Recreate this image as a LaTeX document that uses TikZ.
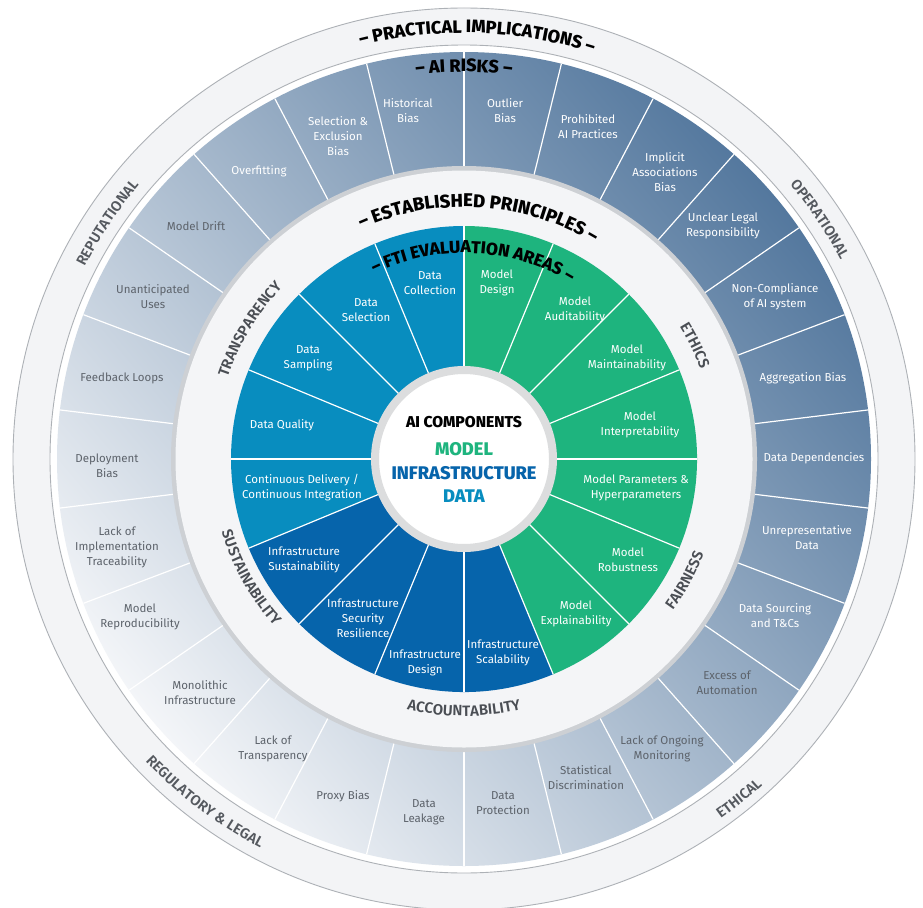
\documentclass[tikz,border=0pt]{standalone}
\usepackage{fontspec}
\setmainfont{Fira Sans}
\usetikzlibrary{decorations.text}

% heavy and semibold cuts, with a plain bold fallback
\IfFontExistsTF{Fira Sans ExtraBold}
  {\newfontfamily\heavyfont{Fira Sans ExtraBold}}
  {\newcommand\heavyfont{\bfseries}}
\IfFontExistsTF{Fira Sans SemiBold}
  {\newfontfamily\semifont{Fira Sans SemiBold}}
  {\newcommand\semifont{\bfseries}}

\definecolor{bandfill}{HTML}{F3F4F6}
\definecolor{bandline}{HTML}{ADB1B6}
\definecolor{riskdark}{HTML}{54789E}
\definecolor{risklight}{HTML}{F3F5F8}
\definecolor{ringfill}{HTML}{F4F5F7}
\definecolor{ringrim}{HTML}{CDD0D4}
\definecolor{modelc}{HTML}{1EB47E}
\definecolor{datac}{HTML}{088DBF}
\definecolor{infrac}{HTML}{0664AB}
\definecolor{labelgray}{HTML}{5D636B}
\definecolor{headgray}{HTML}{4A4E54}
\definecolor{outergray}{HTML}{55595F}
\definecolor{hubrim}{HTML}{DCDDDE}

% curved text on the upper half (clockwise path, letters outside the baseline)
\newcommand\arcup[5]{%
  \path[decorate,decoration={text along path,text align=center,text color=#1,text={|#2|#3}}]
    ({#4+75}:#5) arc[start angle={#4+75},end angle={#4-75},radius=#5];}
% curved text on the lower half (counter-clockwise path, letters inside the baseline)
\newcommand\arcdown[5]{%
  \path[decorate,decoration={text along path,text align=center,text color=#1,text={|#2|#3}}]
    ({#4-75}:#5) arc[start angle={#4-75},end angle={#4+75},radius=#5];}

\newcommand\bigttl{\heavyfont\fontsize{18}{18}\selectfont}
\newcommand\riskttl{\heavyfont\fontsize{18}{18}\selectfont}
\newcommand\printtl{\heavyfont\fontsize{18.5}{18.5}\selectfont}
\newcommand\ftittl{\heavyfont\fontsize{17.3}{17.3}\selectfont}
\newcommand\prinfont{\semifont\fontsize{15}{15}\selectfont}
\newcommand\outfont{\semifont\fontsize{14.5}{14.5}\selectfont}

\begin{document}
\begin{tikzpicture}[x=1pt,y=1pt,
  sep/.style={white,line width=1.2pt},
  lbl/.style={align=center,inner sep=0pt,font=\fontsize{11.5}{15}\selectfont},
  rdark/.style={lbl,text=labelgray},
  rlight/.style={lbl,text=white},
  fti/.style={lbl,text=white},
  hubtxt/.style={inner sep=0pt,font=\heavyfont\fontsize{18.3}{19}\selectfont}]
\useasboundingbox (0,0) rectangle (923,-907);
\fill[white] (0,0) rectangle (923,-907);

\begin{scope}[shift={(464,-459)}]
  % outer band of practical implications
  \fill[bandfill] (0,0) circle (451);
  \draw[bandline,line width=0.9pt] (0,0) circle (451);
  \draw[bandline,line width=0.9pt,fill=white] (0,0) circle (414);

  % AI risks ring
  \shade[top color=riskdark,bottom color=risklight,shading angle=-50] (0,0) circle (407);
  \foreach \k in {0,...,25}
    \draw[sep] ({90-\k*360/26}:290) -- ({90-\k*360/26}:407);

  % established principles ring
  \fill[ringrim] (0,0) circle (293);
  \fill[ringfill] (0,0) circle (288.5);

  % FTI evaluation areas
  \fill[datac]  (0,0) -- (90:233) arc[start angle=90,end angle=202.5,radius=233] -- cycle;
  \fill[infrac] (0,0) -- (202.5:233) arc[start angle=202.5,end angle=292.5,radius=233] -- cycle;
  \fill[modelc] (0,0) -- (-67.5:233) arc[start angle=-67.5,end angle=90,radius=233] -- cycle;
  \foreach \k in {0,...,15}
    \draw[sep] ({90-\k*22.5}:80) -- ({90-\k*22.5}:233);

  % AI components hub
  \draw[hubrim,line width=8pt,fill=white] (0,0) circle (89);
  \node[inner sep=0pt,font=\heavyfont\fontsize{15.7}{16}\selectfont] (hubtitle) at (0,37) {AI COMPONENTS};
  \node[hubtxt,text=modelc] (hubmodel) at (0,10) {MODEL};
  \node[hubtxt,text=infrac] (hubinfra) at (0,-14) {INFRASTRUCTURE};
  \node[hubtxt,text=datac] (hubdata) at (0,-37) {DATA};

  % FTI evaluation area labels
  \node[fti] (f1)  at (-34,176)   {Data\\Collection};
  \node[fti] (f2)  at (33,176)    {Model\\Design};
  \node[fti] (f3)  at (111,149)   {Model\\Auditability};
  \node[fti] (f4)  at (163,101)   {Model\\Maintainability};
  \node[fti] (f5)  at (176,34)    {Model\\Interpretability};
  \node[fti] (f6)  at (172,-29)   {Model Parameters \&\\Hyperparameters};
  \node[fti] (f7)  at (164,-101)  {Model\\Robustness};
  \node[fti] (f8)  at (112,-155)  {Model\\Explainability};
  \node[fti] (f9)  at (39,-194)   {Infrastructure\\Scalability};
  \node[fti] (f10) at (-39,-204)  {Infrastructure\\Design};
  \node[fti] (f11) at (-101,-159) {Infrastructure\\Security\\Resilience};
  \node[fti] (f12) at (-160,-101) {Infrastructure\\Sustainability};
  \node[fti] (f13) at (-162,-29)  {Continuous Delivery /\\Continuous Integration};
  \node[fti] (f14) at (-182,34)   {Data Quality};
  \node[fti] (f15) at (-156,101)  {Data\\Sampling};
  \node[fti] (f16) at (-98,149)   {Data\\Selection};

  % AI risk labels
  \node[rlight] (r1)  at (41,348)    {Outlier\\Bias};
  \node[rlight] (r2)  at (124,332)   {Prohibited\\AI Practices};
  \node[rlight] (r3)  at (201,287)   {Implicit\\Associations\\Bias};
  \node[rlight] (r4)  at (259,233)   {Unclear Legal\\Responsibility};
  \node[rlight] (r5)  at (311,162)   {Non-Compliance\\of AI system};
  \node[rlight] (r6)  at (339,81)    {Aggregation Bias};
  \node[rlight] (r7)  at (350,1)     {Data Dependencies};
  \node[rlight] (r8)  at (343,-79)   {Unrepresentative\\Data};
  \node[rlight] (r9)  at (311,-157)  {Data Sourcing\\and T\&Cs};
  \node[rdark]  (r10) at (263,-224)  {Excess of\\Automation};
  \node[rdark]  (r11) at (198,-290)  {Lack of Ongoing\\Monitoring};
  \node[rdark]  (r12) at (122,-319)  {Statistical\\Discrimination};
  \node[rdark]  (r13) at (39,-344)   {Data\\Protection};
  \node[rdark]  (r14) at (-40,-353)  {Data\\Leakage};
  \node[rdark]  (r15) at (-121,-337) {Proxy Bias};
  \node[rdark]  (r16) at (-191,-290) {Lack of\\Transparency};
  \node[rdark]  (r17) at (-264,-234) {Monolithic\\Infrastructure};
  \node[rdark]  (r18) at (-324,-158) {Model\\Reproducibility};
  \node[rdark]  (r19) at (-347,-88)  {Lack of\\Implementation\\Traceability};
  \node[rdark]  (r20) at (-357,-7)   {Deployment\\Bias};
  \node[rdark]  (r21) at (-342,81)   {Feedback Loops};
  \node[rdark]  (r22) at (-311,162)  {Unanticipated\\Uses};
  \node[rdark]  (r23) at (-268,233)  {Model Drift};
  \node[rlight] (r24) at (-205,288)  {Overfitting};
  \node[rlight] (r25) at (-126,323)  {Selection \&\\Exclusion\\Bias};
  \node[rlight] (r26) at (-56,348)   {Historical\\Bias};

  % ring titles
  \arcup{black}{\bigttl}{– PRACTICAL IMPLICATIONS –}{88.2}{426}
  \arcup{black}{\riskttl}{– AI RISKS –}{90}{387}
  \arcup{black}{\printtl}{– ESTABLISHED PRINCIPLES –}{86.5}{252}
  \arcup{black}{\ftittl}{– FTI EVALUATION AREAS –}{87.3}{206}

  % established principles
  \arcup{headgray}{\prinfont}{TRANSPARENCY}{148.8}{250}
  \arcup{headgray}{\prinfont}{ETHICS}{26.2}{253}
  \arcdown{headgray}{\prinfont}{FAIRNESS}{-28.8}{258}
  \arcdown{headgray}{\prinfont}{ACCOUNTABILITY}{270}{257}
  \arcdown{headgray}{\prinfont}{SUSTAINABILITY}{209.1}{253}

  % practical implications
  \arcup{outergray}{\outfont}{REPUTATIONAL}{146.5}{425}
  \arcup{outergray}{\outfont}{OPERATIONAL}{34}{426}
  \arcdown{outergray}{\outfont}{ETHICAL}{-51}{442}
  \arcdown{outergray}{\outfont}{REGULATORY {\&} LEGAL}{232.9}{439}
\end{scope}
\end{tikzpicture}
\end{document}
